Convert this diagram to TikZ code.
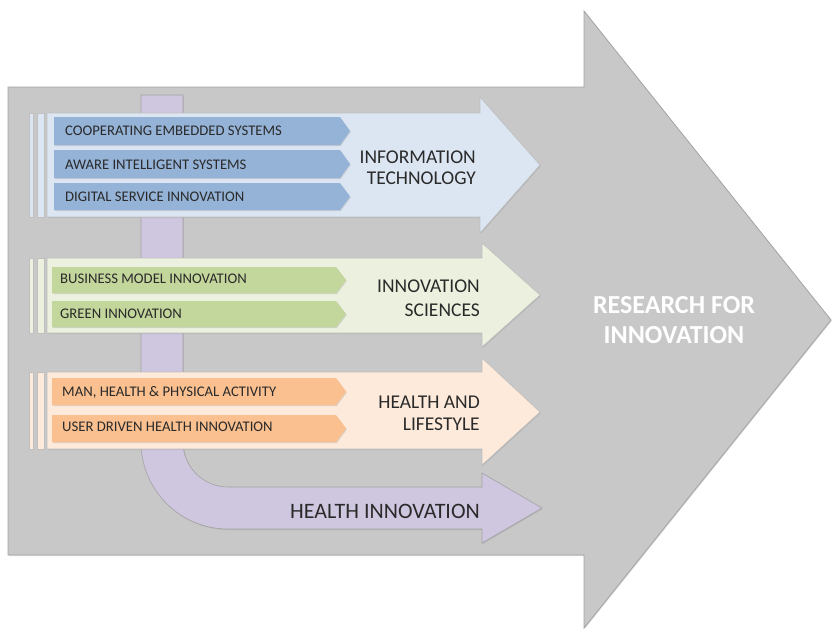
\documentclass[tikz,border=0pt]{standalone}
\usepackage{fontspec}
\setmainfont{Carlito}
\usetikzlibrary{shadows}
\definecolor{biggray}{HTML}{C8C8C8}
\definecolor{bigedge}{HTML}{A3A3A3}
\definecolor{bluebody}{HTML}{DCE6F2}
\definecolor{bluesub}{HTML}{95B3D7}
\definecolor{greenbody}{HTML}{EBF1DE}
\definecolor{greensub}{HTML}{C3D69B}
\definecolor{orangebody}{HTML}{FDEADA}
\definecolor{orangesub}{HTML}{FAC090}
\definecolor{purpleband}{HTML}{CFC6DF}
\definecolor{txtdark}{HTML}{2A2A2A}
\begin{document}
\begin{tikzpicture}[x=1pt,y=-1pt,
  shad/.style={drop shadow={opacity=0.25,shadow xshift=0.8pt,shadow yshift=-1pt}},
  bigarrow/.style={fill=biggray,draw=bigedge,line width=0.8pt,shad},
  rowbody/.style={fill=#1,draw=bigedge!70,line width=0.6pt,shad},
  subarrow/.style={fill=#1,shad},
  subtext/.style={anchor=base west,inner sep=0pt,text=txtdark,font=\fontsize{14.7}{16}\selectfont},
  headtext/.style={anchor=base east,inner sep=0pt,text=txtdark,font=\fontsize{19.5}{22}\selectfont},
  restext/.style={anchor=base,inner sep=0pt,text=white,font=\bfseries\fontsize{26}{28}\selectfont}]
\useasboundingbox (0,0) rectangle (832,630);
% big gray arrow
\path[bigarrow] (8,87) -- (584,87) -- (584,11) -- (831,320) -- (584,628) -- (584,555) -- (8,555) -- cycle;
% purple band (health innovation)
\path[fill=purpleband,draw=bigedge,line width=0.6pt,shad]
  (141,95) -- (183,95) -- (183,442)
  .. controls (183,466.9) and (203.1,487) .. (228,487)
  -- (482,487) -- (482,473) -- (542,508) -- (482,543) -- (482,529) -- (228,529)
  .. controls (180,529) and (141,490) .. (141,442) -- cycle;
% information technology row
\path[rowbody=bluebody] (29,113) rectangle (33,217);
\path[rowbody=bluebody] (37,113) rectangle (44,217);
\path[rowbody=bluebody] (47,113) -- (480,113) -- (480,97) -- (540,165) -- (480,233) -- (480,217) -- (47,217) -- cycle;
\foreach \t/\b in {117/145,150/178,183/210}
  \path[subarrow=bluesub] (54,\t) -- (340,\t) -- (350,{(\t+\b)/2}) -- (340,\b) -- (54,\b) -- cycle;
% innovation sciences row
\path[rowbody=greenbody] (29,258) rectangle (33,333);
\path[rowbody=greenbody] (37,258) rectangle (44,333);
\path[rowbody=greenbody] (47,258) -- (482,258) -- (482,243) -- (540,295) -- (482,347) -- (482,333) -- (47,333) -- cycle;
\foreach \t/\b in {267/293,301/327}
  \path[subarrow=greensub] (52,\t) -- (336,\t) -- (346,{(\t+\b)/2}) -- (336,\b) -- (52,\b) -- cycle;
% health and lifestyle row
\path[rowbody=orangebody] (29,372) rectangle (33,449);
\path[rowbody=orangebody] (37,372) rectangle (44,449);
\path[rowbody=orangebody] (47,372) -- (482,372) -- (482,358) -- (540,412) -- (482,465) -- (482,449) -- (47,449) -- cycle;
\foreach \t/\b in {378/405,415/442}
  \path[subarrow=orangesub] (52,\t) -- (336,\t) -- (346,{(\t+\b)/2}) -- (336,\b) -- (52,\b) -- cycle;
% texts
\node[subtext] (ces) at (65,135.5) {COOPERATING EMBEDDED SYSTEMS};
\node[subtext] (ais) at (65,169) {AWARE INTELLIGENT SYSTEMS};
\node[subtext] (dsi) at (65,201) {DIGITAL SERVICE INNOVATION};
\node[subtext] (bmi) at (60,283) {BUSINESS MODEL INNOVATION};
\node[subtext] (gri) at (60,318) {GREEN INNOVATION};
\node[subtext] (mhp) at (62,396) {MAN, HEALTH \& PHYSICAL ACTIVITY};
\node[subtext] (udh) at (62,431) {USER DRIVEN HEALTH INNOVATION};
\node[headtext] (it1) at (476,163) {INFORMATION};
\node[headtext] (it2) at (476,184) {TECHNOLOGY};
\node[headtext] (is1) at (480,292) {INNOVATION};
\node[headtext] (is2) at (480,316) {SCIENCES};
\node[headtext] (hl1) at (480,408) {HEALTH AND};
\node[headtext] (hl2) at (480,430) {LIFESTYLE};
\node[headtext,font=\fontsize{22}{24}\selectfont] (hi) at (480,518) {HEALTH INNOVATION};
\node[restext] (rf1) at (674,313) {RESEARCH FOR};
\node[restext] (rf2) at (674,343) {INNOVATION};
\end{tikzpicture}
\end{document}
